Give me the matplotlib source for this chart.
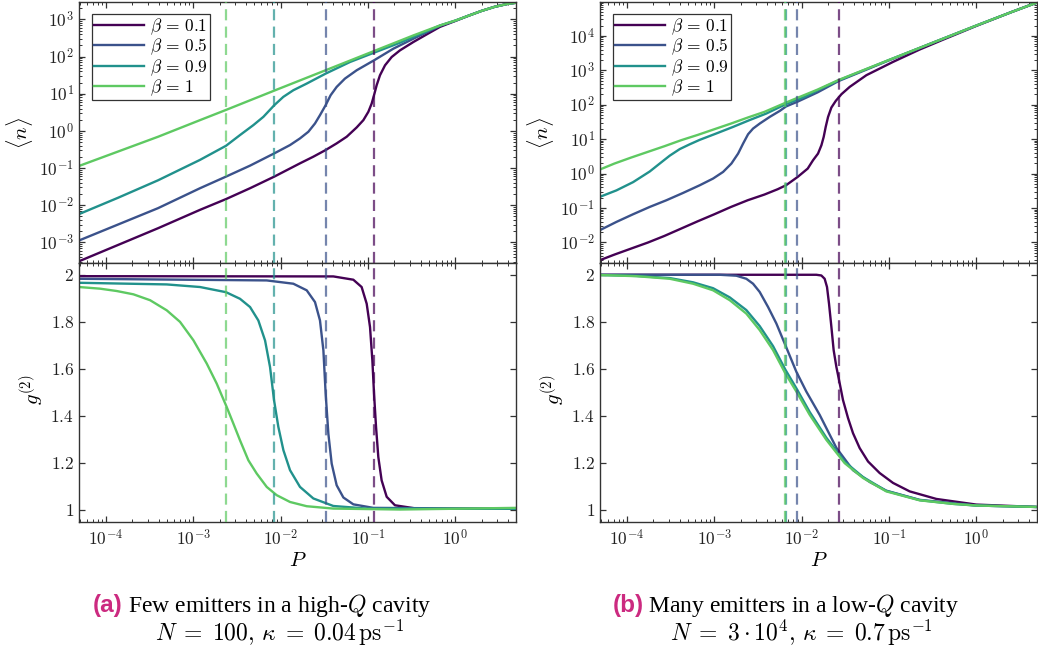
import numpy as np
import matplotlib
matplotlib.use("Agg")
import matplotlib.pyplot as plt
from matplotlib.ticker import FixedLocator, FuncFormatter, NullFormatter

plt.rcParams["mathtext.fontset"] = "cm"
plt.rcParams["font.family"] = ["Liberation Serif", "DejaVu Serif"]

# ---------------- data (stored as log10 values) ----------------
beta_labels = ["0.1", "0.5", "0.9", "1"]
colors = ["#440154", "#3b528b", "#21918c", "#5ec962"]

# (a) few emitters, high-Q cavity : log10 <n> vs log10 P
a_n_log10P = {
    "0.1": [-4.31, -3.405, -2.924, -2.626, -2.351, -2.073, -1.779, -1.626, -1.485, -1.359, -1.244, -1.130,
            -1.053, -0.996, -0.958, -0.931, -0.901, -0.863, -0.805, -0.729, -0.634, -0.481, -0.328, -0.176,
            0.0, 0.15, 0.3, 0.45, 0.6, 0.695],
    "0.5": [-4.31, -3.405, -2.924, -2.626, -2.351, -2.073, -1.893, -1.779, -1.683, -1.607, -1.55, -1.485,
            -1.428, -1.359, -1.264, -1.130, -0.931, -0.710, -0.481, -0.176, 0.0, 0.15, 0.3, 0.45, 0.6, 0.695],
    "0.9": [-4.31, -3.863, -3.405, -2.924, -2.626, -2.466, -2.313, -2.198, -2.073, -1.97, -1.855, -1.702,
            -1.485, -1.206, -0.931, -0.634, -0.176, 0.0, 0.15, 0.3, 0.45, 0.6, 0.695],
    "1":   [-4.31, -3.405, -2.924, -2.626, -2.073, -1.485, -0.931, -0.481, -0.176, 0.0, 0.15, 0.3, 0.45,
            0.6, 0.695],
}
a_n_log10n = {
    "0.1": [-3.51, -2.62, -2.125, -1.835, -1.543, -1.230, -0.873, -0.694, -0.515, -0.336, -0.157, 0.093,
            0.290, 0.514, 0.737, 0.961, 1.229, 1.497, 1.766, 1.989, 2.168, 2.392, 2.598, 2.80,
            2.96, 3.10, 3.23, 3.34, 3.42, 3.45],
    "0.5": [-2.95, -2.08, -1.543, -1.23, -0.935, -0.604, -0.381, -0.202, -0.023, 0.201, 0.424, 0.693,
            0.961, 1.184, 1.408, 1.632, 1.900, 2.213, 2.481, 2.830, 2.965, 3.10, 3.23, 3.34, 3.42, 3.45],
    "0.9": [-2.24, -1.80, -1.33, -0.78, -0.40, -0.112, 0.156, 0.379, 0.693, 0.916, 1.095, 1.274,
            1.542, 1.855, 2.106, 2.374, 2.836, 2.97, 3.10, 3.23, 3.34, 3.42, 3.45],
    "1":   [-0.944, -0.158, 0.290, 0.565, 1.085, 1.633, 2.150, 2.570, 2.839, 2.97, 3.10, 3.23, 3.34,
            3.42, 3.45],
}
# (a) g2 vs log10 P
a_g_log10P = {
    "0.1": [-4.31, -1.397, -1.168, -1.073, -1.015, -0.977, -0.95, -0.931, -0.908, -0.882, -0.844, -0.786,
            -0.691, -0.443, 0.695],
    "0.5": [-4.31, -2.16, -1.855, -1.702, -1.607, -1.55, -1.511, -1.485, -1.454, -1.416, -1.359, -1.282,
            -1.168, -0.939, 0.695],
    "0.9": [-4.31, -3.305, -2.924, -2.626, -2.466, -2.351, -2.256, -2.179, -2.122, -2.076, -2.027, -1.969,
            -1.893, -1.779, -1.626, -1.397, -1.015, 0.695],
    "1":   [-4.31, -4.069, -3.878, -3.687, -3.496, -3.305, -3.153, -3.0, -2.847, -2.733, -2.618, -2.542,
            -2.466, -2.37, -2.275, -2.16, -2.046, -1.893, -1.702, -1.397, -0.634, 0.695],
}
a_g_values = {
    "0.1": [1.994, 1.993, 1.979, 1.948, 1.877, 1.778, 1.636, 1.495, 1.354, 1.226, 1.127, 1.057,
            1.021, 1.007, 1.006],
    "0.5": [1.983, 1.976, 1.962, 1.934, 1.884, 1.806, 1.679, 1.495, 1.325, 1.198, 1.106, 1.054,
            1.025, 1.010, 1.006],
    "0.9": [1.966, 1.959, 1.948, 1.926, 1.898, 1.863, 1.806, 1.721, 1.608, 1.467, 1.354, 1.255,
            1.170, 1.099, 1.050, 1.018, 1.007, 1.006],
    "1":   [1.948, 1.941, 1.931, 1.917, 1.892, 1.849, 1.800, 1.722, 1.623, 1.538, 1.438, 1.368,
            1.297, 1.212, 1.156, 1.099, 1.064, 1.035, 1.017, 1.007, 1.003, 1.010],
}

# (b) many emitters, low-Q cavity : log10 <n> vs log10 P
b_n_log10P = {
    "0.1": [-4.313, -4.145, -3.954, -3.763, -3.572, -3.381, -3.19, -3.0, -2.809, -2.618, -2.427, -2.275,
            -2.179, -2.046, -1.931, -1.870, -1.813, -1.774, -1.748, -1.725, -1.698, -1.660, -1.610, -1.545,
            -1.450, -1.259, -0.954, -0.648, -0.4, 0.0, 0.4, 0.695],
    "0.5": [-4.313, -4.122, -3.931, -3.740, -3.549, -3.358, -3.167, -3.015, -2.9, -2.805, -2.728, -2.671,
            -2.614, -2.557, -2.48, -2.366, -2.251, -2.179, -2.046, -1.817, -1.576, -1.0, -0.5, 0.0, 0.4, 0.695],
    "0.9": [-4.313, -4.122, -3.931, -3.74, -3.626, -3.511, -3.397, -3.282, -3.167, -2.977, -2.786, -2.595,
            -2.404, -2.179, -1.969, -1.817, -1.576, -1.0, -0.5, 0.0, 0.4, 0.695],
    "1":   [-4.313, -4.145, -3.954, -3.763, -3.572, -3.381, -3.19, -3.0, -2.809, -2.618, -2.427, -2.179,
            -1.817, -1.576, -1.0, -0.5, 0.0, 0.4, 0.695],
}
b_n_log10n = {
    "0.1": [-2.520, -2.356, -2.181, -2.007, -1.813, -1.600, -1.387, -1.183, -0.970, -0.776, -0.611, -0.456,
            -0.340, -0.098, 0.144, 0.387, 0.58, 0.823, 1.065, 1.355, 1.645, 1.918, 2.11, 2.305,
            2.518, 2.858, 3.244, 3.605, 3.87, 4.29, 4.69, 4.97],
    "0.5": [-1.648, -1.406, -1.183, -0.970, -0.776, -0.563, -0.340, -0.146, 0.047, 0.290, 0.581, 0.871,
            1.142, 1.307, 1.453, 1.646, 1.82, 1.95, 2.09, 2.36, 2.69, 3.29, 3.80, 4.30, 4.69, 4.97],
    "0.9": [-0.679, -0.49, -0.25, 0.06, 0.29, 0.52, 0.71, 0.85, 0.98, 1.165, 1.355, 1.555,
            1.745, 2.02, 2.225, 2.42, 2.71, 3.30, 3.80, 4.30, 4.69, 4.97],
    "1":   [0.115, 0.290, 0.464, 0.629, 0.794, 0.968, 1.123, 1.288, 1.453, 1.627, 1.792, 2.063,
            2.441, 2.72, 3.30, 3.80, 4.30, 4.69, 4.97],
}
# (b) g2 vs log10 P
b_g_log10P = {
    "0.1": [-4.313, -1.832, -1.775, -1.737, -1.71, -1.687, -1.66, -1.634, -1.603, -1.576, -1.527, -1.469,
            -1.412, -1.336, -1.24, -1.107, -0.954, -0.763, -0.458, 0.0, 0.679],
    "0.5": [-4.313, -2.939, -2.748, -2.634, -2.557, -2.481, -2.385, -2.29, -2.187, -2.061, -1.947, -1.794,
            -1.603, -1.412, -1.221, -1.031, -0.649, 0.0, 0.679],
    "0.9": [-4.313, -3.893, -3.511, -3.244, -3.015, -2.824, -2.634, -2.481, -2.328, -2.187, -2.061, -1.908,
            -1.718, -1.508, -1.298, -1.031, -0.649, -0.267, 0.0, 0.679],
    "1":   [-4.313, -3.893, -3.511, -3.244, -3.015, -2.824, -2.634, -2.481, -2.328, -2.187, -2.061, -1.908,
            -1.718, -1.508, -1.298, -1.031, -0.649, -0.267, 0.0, 0.679],
}
b_g_values = {
    "0.1": [2.0, 2.0, 1.997, 1.983, 1.948, 1.877, 1.779, 1.680, 1.609, 1.560, 1.468, 1.391,
            1.327, 1.264, 1.207, 1.158, 1.116, 1.080, 1.048, 1.024, 1.014],
    "0.5": [2.0, 2.0, 1.996, 1.983, 1.962, 1.927, 1.863, 1.793, 1.701, 1.588, 1.504, 1.405,
            1.265, 1.170, 1.120, 1.083, 1.044, 1.020, 1.014],
    "0.9": [1.999, 1.995, 1.986, 1.968, 1.943, 1.904, 1.850, 1.782, 1.697, 1.597, 1.518, 1.417,
            1.308, 1.206, 1.141, 1.082, 1.043, 1.027, 1.020, 1.014],
    "1":   [1.999, 1.994, 1.983, 1.962, 1.934, 1.892, 1.835, 1.765, 1.680, 1.581, 1.504, 1.405,
            1.299, 1.200, 1.137, 1.080, 1.042, 1.027, 1.020, 1.014],
}

# threshold pump rates (dashed lines)
a_threshold_P = {"0.1": 0.117, "0.5": 0.0328, "0.9": 0.00845, "1": 0.00237}
b_threshold_P = {"0.1": 0.0265, "0.5": 0.00877, "0.9": 0.0066, "1": 0.0065}

# tick labels
x_decades = [-4, -3, -2, -1, 0]
a_n_decades = [-3, -2, -1, 0, 1, 2, 3]
b_n_decades = [-2, -1, 0, 1, 2, 3, 4]
g_ticks = [1.0, 1.2, 1.4, 1.6, 1.8, 2.0]
g_ticklabels = ["1", "1.2", "1.4", "1.6", "1.8", "2"]

# ---------------- figure ----------------
W, H = 1038, 653
fig = plt.figure(figsize=(W / 100, H / 100), dpi=100)


def add_ax(x0, y0, x1, y1):
    return fig.add_axes([x0 / W, 1 - y1 / H, (x1 - x0) / W, (y1 - y0) / H])


TICK_FS = 12.5
LABEL_FS = 15
LINE_C = "#333333"
dash = (0, (5.0, 2.8))
XLIM = (10 ** -4.31, 10 ** 0.695)

pow_fmt = FuncFormatter(lambda v, p: r"$10^{%d}$" % int(round(np.log10(v))))


def log_minor(decades, lo, hi):
    vals = [k * 10.0 ** e for e in range(min(decades) - 1, max(decades) + 1) for k in range(2, 10)]
    return [v for v in vals if lo <= v <= hi]


def style(ax):
    ax.set_xscale("log")
    ax.set_xlim(*XLIM)
    ax.xaxis.set_major_locator(FixedLocator([10.0 ** d for d in x_decades]))
    ax.xaxis.set_minor_locator(FixedLocator(log_minor(x_decades, *XLIM)))
    ax.xaxis.set_minor_formatter(NullFormatter())
    ax.tick_params(which="both", direction="in", top=True, right=True, color=LINE_C,
                   labelcolor="#222222")
    ax.tick_params(which="major", length=4.6, width=0.9, labelsize=TICK_FS)
    ax.tick_params(which="minor", length=2.4, width=0.7)
    ax.tick_params(axis="y", which="major", pad=3.6)
    ax.tick_params(axis="x", which="major", pad=5.5)
    for s in ax.spines.values():
        s.set_linewidth(1.0)
        s.set_color(LINE_C)


panels = [
    (79, 516, a_n_log10P, a_n_log10n, a_g_log10P, a_g_values, a_threshold_P, (-3.556, 3.47), a_n_decades),
    (600, 1037, b_n_log10P, b_n_log10n, b_g_log10P, b_g_values, b_threshold_P, (-2.6, 4.985), b_n_decades),
]

for (x0, x1, nP, nV, gP, gV, thr, ylog, ndec) in panels:
    axn = add_ax(x0, 2, x1, 263)
    axg = add_ax(x0, 263, x1, 522)
    for ax in (axn, axg):
        style(ax)

    for b, c in zip(beta_labels, colors):
        axn.plot(10 ** np.array(nP[b]), 10 ** np.array(nV[b]), color=c, lw=1.7,
                 label=r"$\beta\,=\,%s$" % b, zorder=2)
        axg.plot(10 ** np.array(gP[b]), gV[b], color=c, lw=1.7, zorder=2)
    for b, c in zip(beta_labels, colors):
        for ax in (axn, axg):
            ax.axvline(thr[b], color=c, ls=dash, lw=1.6, alpha=0.7, zorder=3)

    # top panel: <n>
    axn.set_yscale("log")
    ylo, yhi = 10 ** ylog[0], 10 ** ylog[1]
    axn.set_ylim(ylo, yhi)
    axn.yaxis.set_major_locator(FixedLocator([10.0 ** d for d in ndec]))
    axn.yaxis.set_minor_locator(FixedLocator(log_minor(ndec + [ndec[-1] + 1], ylo, yhi)))
    axn.yaxis.set_major_formatter(pow_fmt)
    axn.yaxis.set_minor_formatter(NullFormatter())
    axn.tick_params(axis="x", which="both", labelbottom=False)
    axn.set_ylabel(r"$\langle n \rangle$", fontsize=LABEL_FS)
    axn.yaxis.set_label_coords(-59 / 437, 0.5)
    axn.yaxis.label.set_va("center")

    leg = axn.legend(loc="upper left", bbox_to_anchor=(13 / 437, 1 - 12 / 261), frameon=True,
                     fancybox=False, edgecolor=LINE_C, framealpha=1, fontsize=12.5,
                     handlelength=2.9, borderpad=0.12, labelspacing=0.0, handletextpad=0.3,
                     borderaxespad=0)
    leg.get_frame().set_linewidth(0.9)

    # bottom panel: g2
    axg.set_ylim(0.95, 2.05)
    axg.yaxis.set_major_locator(FixedLocator(g_ticks))
    axg.set_yticklabels(["$%s$" % s for s in g_ticklabels])
    axg.xaxis.set_major_formatter(pow_fmt)
    axg.set_ylabel(r"$g^{(2)}$", fontsize=LABEL_FS)
    axg.yaxis.set_label_coords(-47 / 437, 0.51)
    axg.yaxis.label.set_va("center")
    axg.set_xlabel(r"$P$", fontsize=LABEL_FS)
    axg.xaxis.set_label_coords(0.5, -0.153)
    axg.xaxis.label.set_va("center")

# ---------------- captions ----------------
CAP_FS = 17.05
LAB_FS = 17.5
MATH_FS = 17
MAGENTA = "#cc2a80"
fig.text(93 / W, 1 - 612 / H, "(a)", fontfamily="Liberation Sans", fontweight="bold",
         color=MAGENTA, fontsize=LAB_FS, va="baseline", ha="left")
fig.text(128 / W, 1 - 612 / H, r"Few emitters in a high-$Q$ cavity", fontsize=CAP_FS,
         va="baseline", ha="left")
fig.text(280 / W, 1 - 641 / H, r"$N\;=\;100,\,\kappa\;=\;0.04\,\mathrm{ps}^{-1}$", fontsize=MATH_FS,
         va="baseline", ha="center")
fig.text(613 / W, 1 - 612 / H, "(b)", fontfamily="Liberation Sans", fontweight="bold",
         color=MAGENTA, fontsize=LAB_FS, va="baseline", ha="left")
fig.text(648 / W, 1 - 612 / H, r"Many emitters in a low-$Q$ cavity", fontsize=CAP_FS,
         va="baseline", ha="left")
fig.text(801 / W, 1 - 641 / H, r"$N\;=\;3\cdot 10^{4},\,\kappa\;=\;0.7\,\mathrm{ps}^{-1}$",
         fontsize=MATH_FS, va="baseline", ha="center")

fig.savefig("out.png", dpi=100)
